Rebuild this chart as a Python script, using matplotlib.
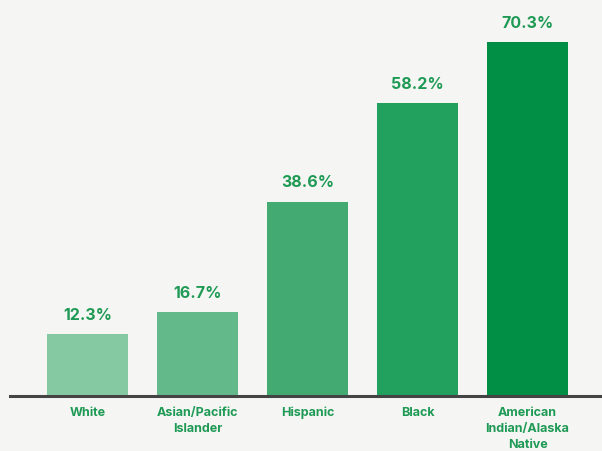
import matplotlib.pyplot as plt

groups = ["White", "Asian/Pacific\nIslander", "Hispanic", "Black", "American\nIndian/Alaska\nNative"]
rates = [12.3, 16.7, 38.6, 58.2, 70.3]
colors = ["#84c9a1", "#63b98a", "#43ab72", "#22a05e", "#008f45"]

bg = "#f5f5f3"
text_green = "#1e9a55"

plt.rcParams["font.family"] = ["Inter", "DejaVu Sans"]

fig = plt.figure(figsize=(6.02, 4.52), dpi=100, facecolor=bg)
ax = fig.add_axes([10 / 602, 55 / 452, 592 / 602, 397 / 452])
ax.set_facecolor(bg)

x = range(len(groups))
bars = ax.bar(x, rates, width=0.736, color=colors)

for b, v in zip(bars, rates):
    ax.text(b.get_x() + b.get_width() / 2, v + 2.4, f"{v}%",
            ha="center", va="bottom", fontsize=11.5, fontweight="bold", color=text_green)

ax.set_xlim(-0.7045, 4.677)
ax.set_ylim(0, 78.8)

ax.set_xticks(list(x))
ax.set_xticklabels(groups, fontsize=9, fontweight="bold", color=text_green, linespacing=1.45)
ax.tick_params(axis="x", length=0, pad=7)
ax.set_yticks([])

for s in ["top", "right", "left"]:
    ax.spines[s].set_visible(False)
ax.spines["bottom"].set_color("#444444")
ax.spines["bottom"].set_linewidth(2.2)

fig.savefig("out.png", dpi=100, facecolor=bg)
